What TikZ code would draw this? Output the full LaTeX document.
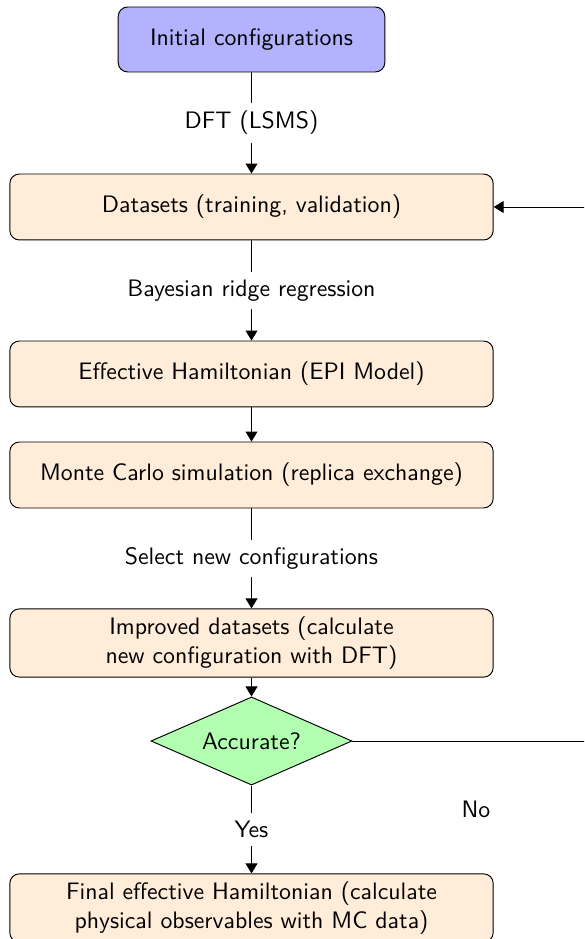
\documentclass[tikz,border=0pt]{standalone}
\usepackage{amsmath,amssymb}
\usetikzlibrary{shapes.geometric,arrows.meta}

\tikzset{
  startbox/.style={draw, rounded corners, fill=blue!30, minimum width=112pt, minimum height=27.3pt, font=\sffamily},
  procbox/.style={draw, rounded corners, fill=orange!15, minimum width=203pt, minimum height=27.7pt, align=center, font=\sffamily},
  decbox/.style={draw, diamond, aspect=2.3, fill=green!30, minimum width=84.4pt, minimum height=37pt, inner sep=0pt, font=\sffamily},
  arrow/.style={-{Triangle[length=4.2pt,width=5pt]}},
  lbl/.style={fill=white, font=\sffamily}
}

\begin{document}
\begin{tikzpicture}[x=0.42pt, y=-0.42pt]
\clip (0,0) rectangle (584,939);

\node at (251.5,39.5) [startbox] (init) {Initial configurations};
\node at (251.5,207) [procbox] (data) {Datasets (training, validation)};
\node at (251.5,374) [procbox] (ham) {Effective Hamiltonian (EPI Model)};
\node at (251.5,475) [procbox] (mc) {Monte Carlo simulation (replica exchange)};
\node at (251.5,643) [procbox] (impr) {Improved datasets (calculate\\new configuration with DFT)};
\node at (251.5,741) [decbox] (acc) {Accurate?};
\node at (251.5,908) [procbox] (final) {Final effective Hamiltonian (calculate\\physical observables with MC data)};

\draw[arrow] (init) -- node[lbl] {DFT (LSMS)} (data);
\draw[arrow] (data) -- node[lbl] {Bayesian ridge regression} (ham);
\draw[arrow] (ham) -- (mc);
\draw[arrow] (mc) -- node[lbl] {Select new configurations} (impr);
\draw[arrow] (impr) -- (acc);
\draw[arrow] (acc) -- node[lbl] {Yes} (final);

% loop back when not accurate
\coordinate (loop) at (640,741);
\draw[arrow] (acc.east) -- (loop) |- (data.east);
\node at (476,809) [font=\sffamily] (no) {No};
\end{tikzpicture}
\end{document}
